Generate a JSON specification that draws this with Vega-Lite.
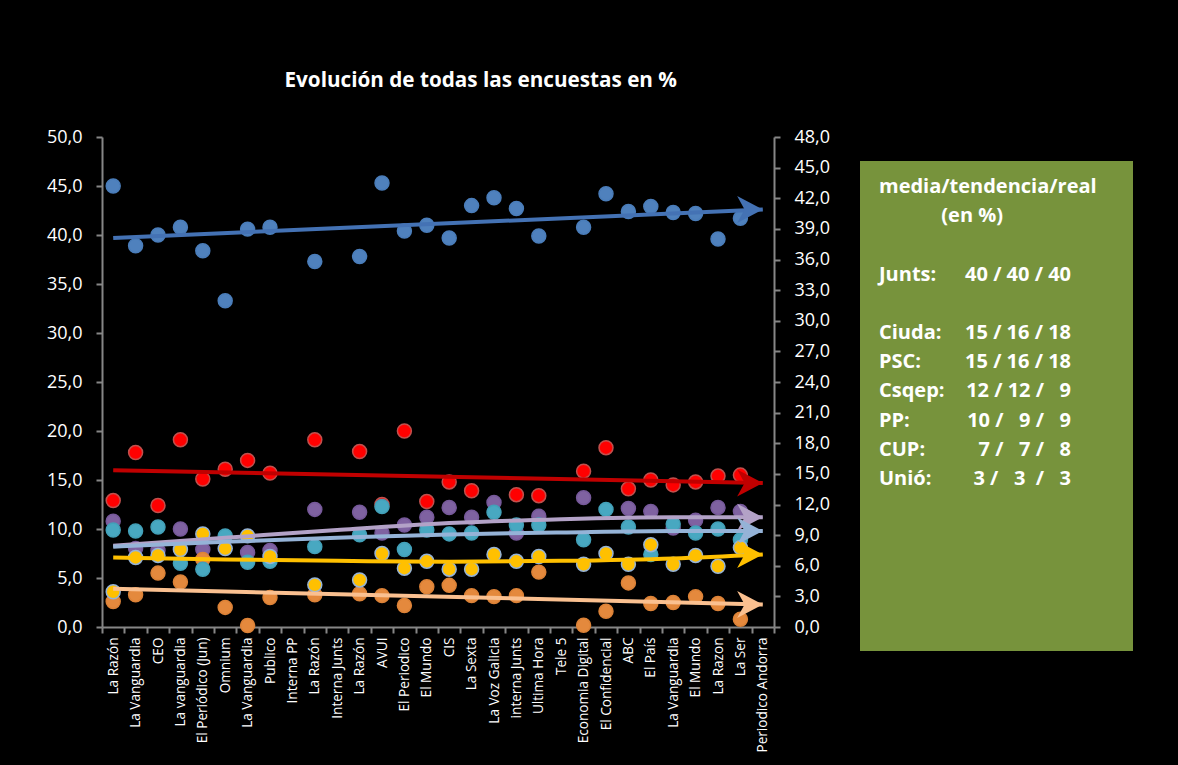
{
  "$schema": "https://vega.github.io/schema/vega-lite/v6.json",
  "background": "#000000",
  "padding": {"left": 46, "top": 70, "right": 50, "bottom": 20},
  "title": {
    "text": "Evolución de todas las encuestas en %",
    "color": "#FFFFFF",
    "font": "Open Sans",
    "fontSize": 20.7,
    "fontWeight": "bold",
    "anchor": "start",
    "dx": 238,
    "offset": 36
  },
  "config": {
    "view": {"stroke": null},
    "font": "Open Sans"
  },
  "datasets": {
    "encuestas": [
      {"n": 0, "partido": "Junts", "valor": 45.0}, {"n": 1, "partido": "Junts", "valor": 38.9}, {"n": 2, "partido": "Junts", "valor": 40.0}, {"n": 3, "partido": "Junts", "valor": 40.8}, {"n": 4, "partido": "Junts", "valor": 38.4}, {"n": 5, "partido": "Junts", "valor": 33.3}, {"n": 6, "partido": "Junts", "valor": 40.6}, {"n": 7, "partido": "Junts", "valor": 40.8}, {"n": 9, "partido": "Junts", "valor": 37.3}, {"n": 11, "partido": "Junts", "valor": 37.8}, {"n": 12, "partido": "Junts", "valor": 45.3}, {"n": 13, "partido": "Junts", "valor": 40.4}, {"n": 14, "partido": "Junts", "valor": 41.0}, {"n": 15, "partido": "Junts", "valor": 39.7}, {"n": 16, "partido": "Junts", "valor": 43.0}, {"n": 17, "partido": "Junts", "valor": 43.8}, {"n": 18, "partido": "Junts", "valor": 42.7}, {"n": 19, "partido": "Junts", "valor": 39.9}, {"n": 21, "partido": "Junts", "valor": 40.8}, {"n": 22, "partido": "Junts", "valor": 44.2}, {"n": 23, "partido": "Junts", "valor": 42.4}, {"n": 24, "partido": "Junts", "valor": 42.9}, {"n": 25, "partido": "Junts", "valor": 42.3}, {"n": 26, "partido": "Junts", "valor": 42.2}, {"n": 27, "partido": "Junts", "valor": 39.6}, {"n": 28, "partido": "Junts", "valor": 41.7},
      {"n": 0, "partido": "Ciuda", "valor": 12.9}, {"n": 1, "partido": "Ciuda", "valor": 17.8}, {"n": 2, "partido": "Ciuda", "valor": 12.4}, {"n": 3, "partido": "Ciuda", "valor": 19.1}, {"n": 4, "partido": "Ciuda", "valor": 15.1}, {"n": 5, "partido": "Ciuda", "valor": 16.1}, {"n": 6, "partido": "Ciuda", "valor": 17.0}, {"n": 7, "partido": "Ciuda", "valor": 15.7}, {"n": 9, "partido": "Ciuda", "valor": 19.1}, {"n": 11, "partido": "Ciuda", "valor": 17.9}, {"n": 12, "partido": "Ciuda", "valor": 12.5}, {"n": 13, "partido": "Ciuda", "valor": 20.0}, {"n": 14, "partido": "Ciuda", "valor": 12.8}, {"n": 15, "partido": "Ciuda", "valor": 14.8}, {"n": 16, "partido": "Ciuda", "valor": 13.9}, {"n": 18, "partido": "Ciuda", "valor": 13.5}, {"n": 19, "partido": "Ciuda", "valor": 13.4}, {"n": 21, "partido": "Ciuda", "valor": 15.9}, {"n": 22, "partido": "Ciuda", "valor": 18.3}, {"n": 23, "partido": "Ciuda", "valor": 14.1}, {"n": 24, "partido": "Ciuda", "valor": 15.0}, {"n": 25, "partido": "Ciuda", "valor": 14.5}, {"n": 26, "partido": "Ciuda", "valor": 14.8}, {"n": 27, "partido": "Ciuda", "valor": 15.4}, {"n": 28, "partido": "Ciuda", "valor": 15.5},
      {"n": 0, "partido": "Csqep", "valor": 10.8}, {"n": 1, "partido": "Csqep", "valor": 8.0}, {"n": 2, "partido": "Csqep", "valor": 7.8}, {"n": 3, "partido": "Csqep", "valor": 10.0}, {"n": 4, "partido": "Csqep", "valor": 7.9}, {"n": 6, "partido": "Csqep", "valor": 7.6}, {"n": 7, "partido": "Csqep", "valor": 7.8}, {"n": 9, "partido": "Csqep", "valor": 12.0}, {"n": 11, "partido": "Csqep", "valor": 11.7}, {"n": 12, "partido": "Csqep", "valor": 9.6}, {"n": 13, "partido": "Csqep", "valor": 10.4}, {"n": 14, "partido": "Csqep", "valor": 11.2}, {"n": 15, "partido": "Csqep", "valor": 12.2}, {"n": 16, "partido": "Csqep", "valor": 11.2}, {"n": 17, "partido": "Csqep", "valor": 12.7}, {"n": 18, "partido": "Csqep", "valor": 9.6}, {"n": 19, "partido": "Csqep", "valor": 11.3}, {"n": 21, "partido": "Csqep", "valor": 13.2}, {"n": 23, "partido": "Csqep", "valor": 12.1}, {"n": 24, "partido": "Csqep", "valor": 11.8}, {"n": 25, "partido": "Csqep", "valor": 10.1}, {"n": 26, "partido": "Csqep", "valor": 10.9}, {"n": 27, "partido": "Csqep", "valor": 12.2}, {"n": 28, "partido": "Csqep", "valor": 11.8},
      {"n": 0, "partido": "Unió", "valor": 2.6}, {"n": 1, "partido": "Unió", "valor": 3.3}, {"n": 2, "partido": "Unió", "valor": 5.5}, {"n": 3, "partido": "Unió", "valor": 4.6}, {"n": 4, "partido": "Unió", "valor": 6.9}, {"n": 5, "partido": "Unió", "valor": 2.0}, {"n": 6, "partido": "Unió", "valor": 0.15}, {"n": 7, "partido": "Unió", "valor": 3.0}, {"n": 9, "partido": "Unió", "valor": 3.3}, {"n": 11, "partido": "Unió", "valor": 3.4}, {"n": 12, "partido": "Unió", "valor": 3.2}, {"n": 13, "partido": "Unió", "valor": 2.2}, {"n": 14, "partido": "Unió", "valor": 4.1}, {"n": 15, "partido": "Unió", "valor": 4.25}, {"n": 16, "partido": "Unió", "valor": 3.2}, {"n": 17, "partido": "Unió", "valor": 3.1}, {"n": 18, "partido": "Unió", "valor": 3.2}, {"n": 19, "partido": "Unió", "valor": 5.6}, {"n": 21, "partido": "Unió", "valor": 0.17}, {"n": 22, "partido": "Unió", "valor": 1.6}, {"n": 23, "partido": "Unió", "valor": 4.5}, {"n": 24, "partido": "Unió", "valor": 2.4}, {"n": 25, "partido": "Unió", "valor": 2.5}, {"n": 26, "partido": "Unió", "valor": 3.1}, {"n": 27, "partido": "Unió", "valor": 2.4}, {"n": 28, "partido": "Unió", "valor": 0.8},
      {"n": 0, "partido": "PP", "valor": 9.9}, {"n": 1, "partido": "PP", "valor": 9.8}, {"n": 2, "partido": "PP", "valor": 10.2}, {"n": 3, "partido": "PP", "valor": 6.5}, {"n": 4, "partido": "PP", "valor": 5.9}, {"n": 5, "partido": "PP", "valor": 9.3}, {"n": 6, "partido": "PP", "valor": 6.6}, {"n": 7, "partido": "PP", "valor": 6.7}, {"n": 9, "partido": "PP", "valor": 8.2}, {"n": 11, "partido": "PP", "valor": 9.4}, {"n": 12, "partido": "PP", "valor": 12.3}, {"n": 13, "partido": "PP", "valor": 7.9}, {"n": 14, "partido": "PP", "valor": 9.9}, {"n": 15, "partido": "PP", "valor": 9.5}, {"n": 16, "partido": "PP", "valor": 9.6}, {"n": 17, "partido": "PP", "valor": 11.7}, {"n": 18, "partido": "PP", "valor": 10.4}, {"n": 19, "partido": "PP", "valor": 10.4}, {"n": 21, "partido": "PP", "valor": 8.9}, {"n": 22, "partido": "PP", "valor": 12.0}, {"n": 23, "partido": "PP", "valor": 10.2}, {"n": 24, "partido": "PP", "valor": 7.4}, {"n": 25, "partido": "PP", "valor": 10.5}, {"n": 26, "partido": "PP", "valor": 9.6}, {"n": 27, "partido": "PP", "valor": 10.0}, {"n": 28, "partido": "PP", "valor": 8.9},
      {"n": 0, "partido": "CUP", "valor": 3.6}, {"n": 1, "partido": "CUP", "valor": 7.1}, {"n": 2, "partido": "CUP", "valor": 7.3}, {"n": 3, "partido": "CUP", "valor": 7.9}, {"n": 4, "partido": "CUP", "valor": 9.5}, {"n": 5, "partido": "CUP", "valor": 8.0}, {"n": 6, "partido": "CUP", "valor": 9.3}, {"n": 7, "partido": "CUP", "valor": 7.2}, {"n": 9, "partido": "CUP", "valor": 4.3}, {"n": 11, "partido": "CUP", "valor": 4.8}, {"n": 12, "partido": "CUP", "valor": 7.5}, {"n": 13, "partido": "CUP", "valor": 6.0}, {"n": 14, "partido": "CUP", "valor": 6.7}, {"n": 15, "partido": "CUP", "valor": 5.9}, {"n": 16, "partido": "CUP", "valor": 5.9}, {"n": 17, "partido": "CUP", "valor": 7.4}, {"n": 18, "partido": "CUP", "valor": 6.7}, {"n": 19, "partido": "CUP", "valor": 7.2}, {"n": 21, "partido": "CUP", "valor": 6.4}, {"n": 22, "partido": "CUP", "valor": 7.5}, {"n": 23, "partido": "CUP", "valor": 6.4}, {"n": 24, "partido": "CUP", "valor": 8.4}, {"n": 25, "partido": "CUP", "valor": 6.4}, {"n": 26, "partido": "CUP", "valor": 7.3}, {"n": 27, "partido": "CUP", "valor": 6.2}, {"n": 28, "partido": "CUP", "valor": 8.1}
    ],
    "tendencias": [
      {"n": 0, "partido": "Junts", "valor": 39.7}, {"n": 29, "partido": "Junts", "valor": 42.6},
      {"n": 0, "partido": "Ciuda", "valor": 16.0}, {"n": 29, "partido": "Ciuda", "valor": 14.7},
      {"n": 0, "partido": "Csqep", "valor": 8.3}, {"n": 5, "partido": "Csqep", "valor": 9.1}, {"n": 10, "partido": "Csqep", "valor": 9.9}, {"n": 15, "partido": "Csqep", "valor": 10.6}, {"n": 20, "partido": "Csqep", "valor": 11.0}, {"n": 25, "partido": "Csqep", "valor": 11.2}, {"n": 29, "partido": "Csqep", "valor": 11.2},
      {"n": 0, "partido": "PP", "valor": 8.2}, {"n": 5, "partido": "PP", "valor": 8.7}, {"n": 10, "partido": "PP", "valor": 9.1}, {"n": 15, "partido": "PP", "valor": 9.45}, {"n": 20, "partido": "PP", "valor": 9.65}, {"n": 25, "partido": "PP", "valor": 9.8}, {"n": 29, "partido": "PP", "valor": 9.8},
      {"n": 0, "partido": "CUP", "valor": 7.1}, {"n": 5, "partido": "CUP", "valor": 6.9}, {"n": 10, "partido": "CUP", "valor": 6.75}, {"n": 15, "partido": "CUP", "valor": 6.65}, {"n": 20, "partido": "CUP", "valor": 6.75}, {"n": 25, "partido": "CUP", "valor": 7.0}, {"n": 29, "partido": "CUP", "valor": 7.4},
      {"n": 0, "partido": "Unió", "valor": 3.9}, {"n": 29, "partido": "Unió", "valor": 2.3}
    ],
    "cuadro": [
      {"linea": 0, "etiqueta": "media/tendencia/real", "cifras": ""},
      {"linea": 1, "etiqueta": "\u200c\u00a0\u00a0\u00a0\u00a0\u00a0\u00a0\u00a0\u00a0\u00a0\u00a0\u00a0\u00a0(en %)", "cifras": ""},
      {"linea": 3, "etiqueta": "Junts:", "cifras": "40 / 40 / 40"},
      {"linea": 5, "etiqueta": "Ciuda:", "cifras": "15 / 16 / 18"},
      {"linea": 6, "etiqueta": "PSC:", "cifras": "15 / 16 / 18"},
      {"linea": 7, "etiqueta": "Csqep:", "cifras": "12 / 12 /\u00a0\u00a0\u00a09"},
      {"linea": 8, "etiqueta": "PP:", "cifras": "10 /\u00a0\u00a0\u00a09 /\u00a0\u00a0\u00a09"},
      {"linea": 9, "etiqueta": "CUP:", "cifras": "7 /\u00a0\u00a0\u00a07 /\u00a0\u00a0\u00a08"},
      {"linea": 10, "etiqueta": "Unió:", "cifras": "3 /\u00a0\u00a0\u00a03\u00a0\u00a0/\u00a0\u00a0\u00a03"}
    ]
  },
  "spacing": 30,
  "hconcat": [
    {
      "width": 672,
      "height": 490,
      "layer": [
        {
          "data": {"name": "encuestas"},
          "mark": {"type": "point", "filled": true, "size": 195, "strokeWidth": 1.5, "opacity": 1},
          "encoding": {
            "x": {
              "field": "n", "type": "ordinal",
              "scale": {"domain": [0,1,2,3,4,5,6,7,8,9,10,11,12,13,14,15,16,17,18,19,20,21,22,23,24,25,26,27,28,29], "paddingInner": 0, "paddingOuter": 0},
              "axis": {
                "title": null,
                "labelExpr": "['La Razón','La Vanguardia','CEO','La vanguardia','El Periódico (Jun)','Omnium','La Vanguardia','Publico','Interna PP','La Razón','Interna Junts','La Razón','AVUI','El Periodico','El Mundo','CIS','La Sexta','La Voz  Galicia','interna Junts','Ultima Hora','Tele 5','Economia Digital','El Confidencial','ABC','El País','La Vanguardia','El Mundo','La Razon','La Ser','Periodico Andorra'][datum.value]",
                "labelAngle": -90, "labelAlign": "right", "labelBaseline": "middle",
                "labelColor": "#FFFFFF", "labelFont": "Open Sans", "labelFontSize": 13.6, "labelPadding": 4,
                "labelOverlap": false,
                "tickBand": "extent", "tickSize": 6, "tickWidth": 2, "tickColor": "#868686",
                "domainColor": "#868686", "domainWidth": 2, "grid": false
              }
            },
            "y": {
              "field": "valor", "type": "quantitative",
              "scale": {"domain": [0, 50], "nice": false},
              "axis": {
                "orient": "left", "title": null, "grid": false,
                "values": [0,5,10,15,20,25,30,35,40,45,50],
                "labelExpr": "replace(format(datum.value, '.1f'), '.', ',')",
                "labelColor": "#FFFFFF", "labelFont": "Open Sans", "labelFontSize": 18, "labelPadding": 14, "labelFlush": false,
                "tickSize": 6, "tickWidth": 2, "tickColor": "#868686",
                "domainColor": "#868686", "domainWidth": 2
              }
            },
            "color": {
              "field": "partido", "type": "nominal", "legend": null,
              "scale": {"domain": ["Junts","Ciuda","Csqep","Unió","PP","CUP"], "range": ["#4F81BD","#FF0000","#7F62A1","#E4893D","#48A8C1","#FFC000"]}
            },
            "stroke": {
              "field": "partido", "type": "nominal", "legend": null,
              "scale": {"domain": ["Junts","Ciuda","Csqep","Unió","PP","CUP"], "range": ["#4A7DBA","#C0504D","#76599A","#DC8237","#42A0B8","#95B3D7"]}
            }
          }
        },
        {
          "data": {"name": "tendencias"},
          "mark": {"type": "line", "strokeWidth": 4, "strokeCap": "butt", "interpolate": "monotone"},
          "encoding": {
            "x": {"field": "n", "type": "ordinal"},
            "y": {"field": "valor", "type": "quantitative", "scale": {"domain": [0, 50], "nice": false}, "axis": null},
            "color": {
              "field": "partido", "type": "nominal", "legend": null,
              "scale": {"domain": ["Junts","Ciuda","Csqep","Unió","PP","CUP"], "range": ["#4472B4","#C00000","#B3A2C7","#FAC090","#95B3D7","#FFC000"]}
            }
          }
        },
        {
          "data": {"name": "tendencias"},
          "transform": [{"filter": "datum.n == 29"}],
          "mark": {"type": "point", "shape": "M0,0L-1.9,-1L-1.35,0L-1.9,1Z", "filled": true, "size": 729, "opacity": 1, "strokeWidth": 0},
          "encoding": {
            "x": {"field": "n", "type": "ordinal"},
            "y": {"field": "valor", "type": "quantitative", "scale": {"domain": [0, 50], "nice": false}, "axis": null},
            "color": {
              "field": "partido", "type": "nominal", "legend": null,
              "scale": {"domain": ["Junts","Ciuda","Csqep","Unió","PP","CUP"], "range": ["#4472B4","#C00000","#B3A2C7","#FAC090","#95B3D7","#FFC000"]}
            }
          }
        },
        {
          "data": {"values": [{}]},
          "mark": {"type": "point", "opacity": 0},
          "encoding": {
            "y": {
              "datum": 0, "type": "quantitative",
              "scale": {"domain": [0, 48], "nice": false},
              "axis": {
                "orient": "right", "title": null, "grid": false,
                "values": [0,3,6,9,12,15,18,21,24,27,30,33,36,39,42,45,48],
                "labelExpr": "replace(format(datum.value, '.1f'), '.', ',')",
                "labelColor": "#FFFFFF", "labelFont": "Open Sans", "labelFontSize": 18, "labelPadding": 14, "labelFlush": false,
                "tickSize": 6, "tickWidth": 2, "tickColor": "#868686",
                "domainColor": "#868686", "domainWidth": 2
              }
            }
          }
        }
      ],
      "resolve": {"scale": {"y": "independent", "color": "independent", "stroke": "independent"}}
    },
    {
      "width": 273,
      "height": 514,
      "data": {"name": "cuadro"},
      "layer": [
        {
          "data": {"values": [{}]},
          "mark": {"type": "rect", "color": "#77933C"},
          "encoding": {
            "y": {"datum": -0.89, "type": "quantitative", "scale": {"domain": [-1.712, 15.89], "reverse": true, "nice": false, "zero": false}, "axis": null},
            "y2": {"datum": 15.89}
          }
        },
        {
          "mark": {"type": "text", "align": "left", "baseline": "middle", "font": "Open Sans", "fontSize": 20, "fontWeight": "bold", "color": "#FFFFFF"},
          "encoding": {
            "x": {"value": 19},
            "y": {"field": "linea", "type": "quantitative", "axis": null},
            "text": {"field": "etiqueta"}
          }
        },
        {
          "mark": {"type": "text", "align": "right", "baseline": "middle", "font": "Open Sans", "fontSize": 20, "fontWeight": "bold", "color": "#FFFFFF"},
          "encoding": {
            "x": {"value": 211},
            "y": {"field": "linea", "type": "quantitative", "axis": null},
            "text": {"field": "cifras"}
          }
        }
      ]
    }
  ]
}
